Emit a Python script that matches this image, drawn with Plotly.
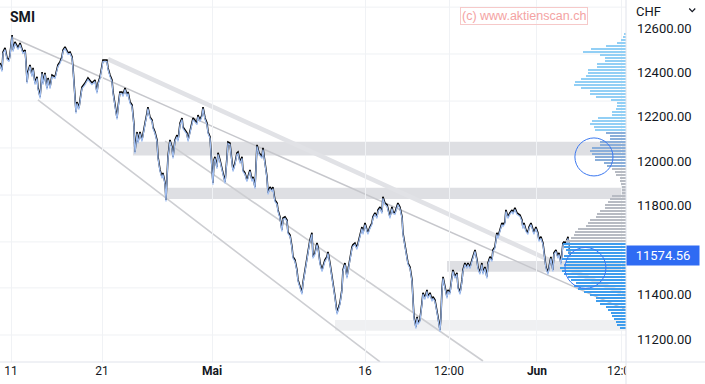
import plotly.graph_objects as go

# ---------------- data ----------------
# trading-day index (0 = 11 April) and SMI price (CHF)
t = [-0.72,-0.59,-0.52,-0.39,-0.26,-0.13,-0.07,0.07,0.13,0.26,0.46,0.59,0.78,0.92,0.98,1.05,1.11,1.24,1.37,1.44,
     1.57,1.70,1.76,1.90,2.03,2.09,2.22,2.35,2.42,2.55,2.68,2.88,3.07,3.20,3.33,3.40,3.53,3.66,3.73,3.86,
     3.99,4.05,4.12,4.18,4.25,4.31,4.44,4.58,4.64,4.84,5.03,5.29,5.49,5.62,5.69,5.82,5.95,6.01,6.27,6.34,
     6.47,6.60,6.67,6.80,6.93,6.99,7.12,7.25,7.32,7.45,7.58,7.65,7.78,7.91,7.97,8.04,8.10,8.24,8.30,8.43,
     8.56,8.63,8.76,8.89,8.95,9.08,9.22,9.28,9.41,9.54,9.61,9.74,9.87,9.93,10.07,10.13,10.20,10.26,10.39,10.52,
     10.59,10.72,10.85,10.92,11.05,11.18,11.24,11.37,11.50,11.57,11.70,11.83,11.90,12.16,12.22,12.35,12.48,12.55,12.68,12.81,
     12.88,13.01,13.07,13.14,13.20,13.27,13.33,13.46,13.53,13.66,13.79,13.86,13.99,14.12,14.18,14.31,14.44,14.51,14.64,14.77,
     14.84,14.97,15.10,15.16,15.29,15.42,15.49,15.62,15.75,15.82,15.95,16.01,16.08,16.21,16.41,16.47,16.60,16.73,16.80,16.93,
     17.06,17.12,17.25,17.39,17.45,17.58,17.71,17.78,17.91,18.04,18.10,18.24,18.37,18.43,18.56,18.69,18.76,18.89,19.02,19.08,
     19.22,19.35,19.41,19.54,19.67,19.74,19.87,20.00,20.07,20.20,20.33,20.39,20.52,20.65,20.72,20.85,20.98,21.05,21.18,21.31,
     21.37,21.50,21.63,21.70,21.83,21.96,22.03,22.16,22.29,22.35,22.48,22.61,22.68,22.81,22.94,23.01,23.14,23.27,23.33,23.46,
     23.59,23.66,23.79,23.92,23.99,24.12,24.25,24.31,24.44,24.58,24.64,24.77,24.90,24.97,25.10,25.23,25.29,25.42,25.56,25.62,
     25.75,25.88,25.95,26.08,26.21,26.27,26.34,26.47,26.54,26.60,26.73,26.86,26.93,27.06,27.19,27.25,27.39,27.52,27.58,27.71,
     27.84,27.91,28.04,28.10,28.17,28.24,28.37,28.50,28.56,28.69,28.82,28.89,29.02,29.15,29.22,29.35,29.48,29.54,29.67,29.80,
     29.87,30.00,30.13,30.20,30.33,30.46,30.52,30.65,30.78,30.85,30.98,31.11,31.18,31.31,31.44,31.50,31.63,31.76,31.83,31.96,
     32.09,32.16,32.29,32.35,32.48,32.61,32.75,32.81,32.94,33.07,33.27,33.40,33.46,33.53,33.66,33.79,33.86,33.99,34.12,34.18,
     34.31,34.44,34.51,34.64,34.77,34.84,34.97,35.10,35.16,35.29,35.42,35.49,35.62,35.75,35.82,35.95,36.08,36.14,36.27,36.41,
     36.47,36.54]
price = [12442,12411,12492,12510,12465,12456,12478,12568,12501,12537,12510,12532,12492,12501,12447,12357,12402,12434,12388,12420,
         12352,12380,12334,12290,12402,12352,12398,12330,12375,12334,12388,12380,12434,12447,12470,12501,12515,12492,12488,12492,
         12470,12424,12344,12290,12222,12267,12240,12308,12334,12352,12375,12352,12366,12312,12352,12380,12434,12456,12456,12420,
         12388,12366,12312,12254,12195,12240,12312,12312,12298,12330,12298,12312,12267,12254,12222,12164,12042,12132,12087,12132,
         12096,12128,12172,12218,12244,12200,12186,12154,12132,12096,12020,11961,11930,11948,11902,11826,11916,12020,12096,12064,
         12020,12096,12118,12096,12172,12195,12154,12141,12128,12096,12141,12172,12195,12172,12208,12186,12208,12244,12195,12172,
         12132,12110,12051,11974,11902,12006,12020,11974,12038,12006,11970,11948,11907,12020,12087,12082,12006,11961,11992,12038,
         12042,11997,12020,11961,11948,11916,11930,11961,11916,11930,11884,11992,12074,12038,12020,12060,11992,11930,11858,11884,
         11871,11884,11826,11812,11781,11750,11691,11745,11750,11736,11682,11668,11614,11570,11556,11511,11466,11434,11408,11452,
         11511,11570,11601,11646,11678,11570,11588,11632,11614,11542,11511,11524,11556,11570,11592,11542,11480,11466,11390,11318,
         11331,11362,11421,11511,11542,11480,11511,11570,11614,11624,11632,11610,11632,11678,11704,11678,11722,11691,11678,11704,
         11722,11750,11768,11750,11781,11794,11772,11840,11812,11804,11781,11750,11794,11772,11768,11794,11812,11794,11750,11678,
         11632,11570,11542,11524,11466,11362,11300,11254,11300,11272,11286,11362,11408,11385,11421,11390,11408,11376,11390,11376,
         11331,11300,11241,11300,11421,11480,11434,11390,11421,11408,11480,11511,11480,11498,11434,11408,11466,11511,11542,11524,
         11542,11524,11556,11570,11601,11556,11524,11498,11542,11498,11524,11480,11542,11570,11556,11601,11614,11678,11660,11691,
         11722,11714,11727,11781,11750,11768,11781,11768,11790,11768,11758,11736,11704,11722,11691,11678,11704,11722,11691,11678,
         11704,11678,11646,11660,11632,11588,11524,11498,11524,11570,11511,11588,11601,11570,11588,11542,11632,11637,11632,11660,
         11614,11574.56]
last_price = 11574.56

# x-axis tick labels (trading-day positions)
x_tickvals = [0, 5.95, 13.14, 23.14, 28.63, 34.38, 39.93]
x_ticktext = ["11", "21", "<b>Mai</b>", "16", "12:00", "<b>Jun</b>", "12:00"]

# y-axis tick labels
y_tickvals = [11200, 11400, 11600, 11800, 12000, 12200, 12400, 12600]
y_ticktext = ["11200.00", "11400.00", "11600.00", "11800.00", "12000.00", "12200.00", "12400.00", "12600.00"]

# horizontal grid levels of the chart background
grid_levels = [12694, 12483, 12271, 12060, 11848, 11637, 11430, 11218]

# volume profile: price level and relative volume
profile_levels = [12573,12560,12546,12532,12519,12506,12492,12478,12465,12452,12438,12424,12411,12398,12384,12370,12357,12344,12330,12316,
                  12303,12290,12276,12262,12249,12236,12222,12208,12195,12182,12168,12154,12141,12128,12114,12100,12087,12074,12060,12046,
                  12033,12020,12006,11992,11979,11966,11952,11938,11925,11912,11898,11884,11871,11858,11844,11830,11817,11804,11790,11776,
                  11763,11750,11736,11722,11709,11696,11682,11668,11655,11642,11628,11614,11601,11588,11574,11560,11547,11534,11520,11506,
                  11493,11480,11466,11452,11439,11426,11412,11398,11385,11372,11358,11344,11331,11318,11304,11290,11277,11264,11250]
profile_volume = [2,3,5,9,20,35,43,26,21,21,
                  29,29,38,38,40,45,51,52,45,36,
                  36,30,15,9,9,10,14,14,28,34,
                  36,32,31,20,16,16,26,26,34,36,
                  34,31,31,22,19,14,11,10,6,6,
                  5,4,4,4,14,16,18,21,21,26,
                  29,30,36,38,40,48,51,52,55,60,
                  63,62,60,58,62,64,60,62,66,64,
                  62,58,55,50,52,48,42,36,30,30,
                  26,20,18,15,14,12,10,9,6]

# support / resistance zones: (start index, low, high)
zones = [(7.97, 12026, 12088), (10.2, 11830, 11881), (28.5, 11503, 11551), (21.18, 11237, 11285)]
zone_colors = ["#dedfe3", "#dedfe3", "#dedfe3", "#eff0f2"]

# trend lines: (t0, p0, t1, p1)
trend_lines = [(6.34, 12460, 40.2, 11398), (0.13, 12555, 40.2, 11331),
               (1.76, 12276, 24.12, 11097), (10.07, 12091, 30.85, 11101)]
trend_widths = [4.5, 1.5, 1.6, 1.6]
trend_colors = ["#e1e2e6", "#c6c7cc", "#cdced2", "#cdced2"]

# ---------------- figure ----------------
X_RANGE = [-0.72, 40.2]
Y_RANGE = [11096.4, 12726]

prof_colors = []
for lv in profile_levels:
    if lv > 12130:
        prof_colors.append("#92cff5")
    elif lv > 11975:
        prof_colors.append("#8aaed9")
    elif lv > 11630:
        prof_colors.append("#b7bbc3")
    else:
        prof_colors.append("#3f9ded")

fig = go.Figure()

fig.add_trace(go.Bar(x=profile_volume, y=profile_levels, orientation="h", xaxis="x2", yaxis="y",
                     marker=dict(color=prof_colors, line=dict(width=0)), width=5, hoverinfo="skip"))
fig.add_trace(go.Scatter(x=t, y=price, mode="lines", yaxis="y2",
                         line=dict(color="#9fbdf0", width=1.2), hoverinfo="skip"))
fig.add_trace(go.Scatter(x=t, y=price, mode="lines",
                         line=dict(color="#000000", width=1.6), hoverinfo="skip"))

shapes = []
for g in grid_levels:
    shapes.append(dict(type="line", xref="paper", yref="y", x0=0, x1=1, y0=g, y1=g,
                       line=dict(color="#eff1f4", width=1), layer="below"))
for (x0, lo, hi), c in zip(zones, zone_colors):
    shapes.append(dict(type="rect", xref="x", yref="y", x0=x0, x1=X_RANGE[1], y0=lo, y1=hi,
                       fillcolor=c, line=dict(width=0), layer="below"))
for (x0, y0, x1, y1), w, c in zip(trend_lines, trend_widths, trend_colors):
    shapes.append(dict(type="line", xref="x", yref="y", x0=x0, y0=y0, x1=x1, y1=y1,
                       line=dict(color=c, width=w), layer="below"))
# circles
shapes.append(dict(type="circle", xref="x", yref="y", x0=36.86, x1=39.35, y0=11934, y1=12105,
                   line=dict(color="#3b78f0", width=1), layer="above"))
shapes.append(dict(type="circle", xref="x", yref="y", x0=36.21, x1=38.89, y0=11428, y1=11612,
                   line=dict(color="#3b78f0", width=1), layer="above"))
# clip the last time label under the price scale
shapes.append(dict(type="rect", xref="paper", yref="paper", x0=1.0, x1=1.2, y0=-0.1, y1=-0.002,
                   fillcolor="white", line=dict(width=0), layer="above"))
shapes.append(dict(type="line", xref="paper", yref="paper", x0=1.0, x1=1.0, y0=-0.1, y1=1,
                   line=dict(color="#e0e3eb", width=1), layer="above"))
shapes.append(dict(type="line", xref="paper", yref="paper", x0=0, x1=1.2, y0=0, y1=0,
                   line=dict(color="#e0e3eb", width=1), layer="above"))
# chevron next to currency
shapes.append(dict(type="path", xref="paper", yref="paper",
                   path="M 1.1010,0.9765 L 1.1058,0.9680 L 1.1106,0.9765",
                   line=dict(color="#131722", width=1.2), layer="above"))

annotations = [
    dict(text="<b>SMI</b>", xref="paper", yref="paper", x=0.012, y=0.953, xanchor="left", yanchor="middle",
         showarrow=False, font=dict(family="Roboto", size=14, color="#131722")),
    dict(text="(c) www.aktienscan.ch", xref="paper", yref="paper", x=0.837, y=0.955, xanchor="center",
         yanchor="middle", showarrow=False, font=dict(family="Liberation Sans", size=12.5, color="#f4a3a3"),
         bordercolor="#f6c9c9", borderwidth=1, borderpad=1, bgcolor="rgba(255,255,255,0)"),
    dict(text="CHF", xref="paper", yref="paper", x=1.013, y=0.967, xanchor="left", yanchor="middle",
         showarrow=False, font=dict(family="Roboto", size=13, color="#131722")),
    dict(text=f"{last_price:.2f}", xref="paper", yref="y", x=1.0, y=last_price, xanchor="left",
         yanchor="middle", showarrow=False, bgcolor="#2f6bf3", borderpad=2, width=68, align="center",
         font=dict(family="Roboto", size=13, color="white")),
]

fig.update_layout(
    width=705, height=384,
    margin=dict(l=0, r=79, t=0, b=22),
    paper_bgcolor="white", plot_bgcolor="white",
    showlegend=False, bargap=0,
    shapes=shapes, annotations=annotations,
    xaxis=dict(range=X_RANGE, tickvals=x_tickvals, ticktext=x_ticktext, showgrid=True,
               gridcolor="#f0f2f5", gridwidth=1, zeroline=False, showline=False, ticks="",
               tickfont=dict(family="Roboto", size=12, color="#131722"), fixedrange=True),
    xaxis2=dict(range=[626, 0], overlaying="x", visible=False, fixedrange=True),
    yaxis=dict(range=Y_RANGE, side="right", tickvals=y_tickvals, ticktext=y_ticktext, showgrid=False,
               zeroline=False, showline=False, ticks="", ticklabelstandoff=10,
               tickfont=dict(family="Roboto", size=13, color="#131722"), fixedrange=True),
    yaxis2=dict(range=[Y_RANGE[0] + 7, Y_RANGE[1] + 7], overlaying="y", visible=False, fixedrange=True),
)

fig.write_html("out.html", config={"displayModeBar": False},
               post_script="document.body.style.margin='0';document.body.style.overflow='hidden';")
